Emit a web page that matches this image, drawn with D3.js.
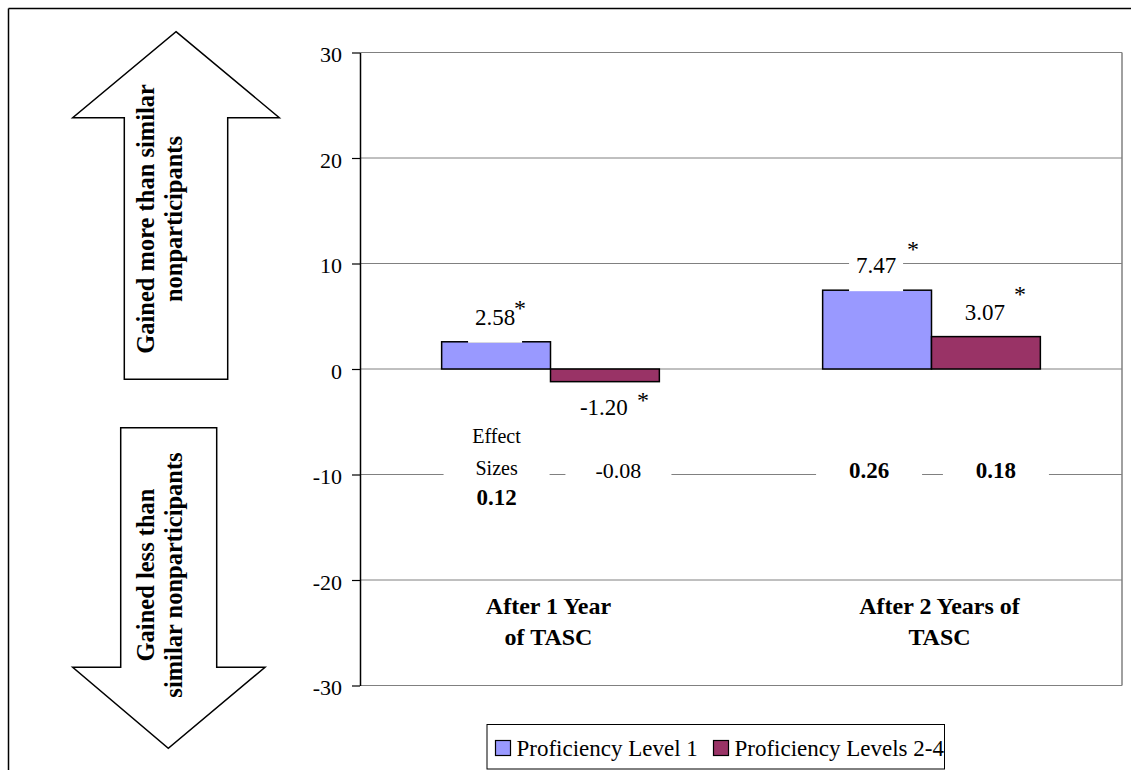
<!DOCTYPE html>
<html>
<head>
<meta charset="utf-8">
<script src="https://cdn.jsdelivr.net/npm/d3@7"></script>
<style>
  html, body { margin: 0; padding: 0; background: #fff; }
  svg { display: block; }
</style>
</head>
<body>
<script>
// ---------------- data ----------------
const categories = ["After 1 Year of TASC", "After 2 Years of TASC"];
const categoryLines = [["After 1 Year", "of TASC"], ["After 2 Years of", "TASC"]];
const seriesNames = ["Proficiency Level 1", "Proficiency Levels 2-4"];
const level1 = [2.58, 7.47];
const levels24 = [-1.20, 3.07];
const level1Sig = [true, true];
const levels24Sig = [true, true];
const effect1 = [0.12, 0.26];
const effect24 = [-0.08, 0.18];
const effect1Sig = [true, true];
const effect24Sig = [false, true];
const effectHeader = ["Effect", "Sizes"];
const yTicks = [-30, -20, -10, 0, 10, 20, 30];
const arrowUpText = ["Gained more than similar", "nonparticipants"];
const arrowDownText = ["Gained less than", "similar nonparticipants"];

// ---------------- layout / style ----------------
const W = 1131, H = 770;
const colors = ["#9999FF", "#993366"];
const FONT = '"Liberation Serif"';
const effectRowValue = -10;
// nudges of annotation boxes (px), [category][series]
const starNudge = [[[24, -37], [38, 15]], [[36, -44], [34, -46]]];
const effNudge = [[0.5, 13.5], [-8, 10]];
const catNudge = [-2, 8];
const labelCoversBar = [true, false];

function draw() {
const svg = d3.select("body").append("svg").attr("width", W).attr("height", H)
  .style("font-family", FONT);

// outer frame (extends beyond page)
svg.append("line").attr("x1", 8.5).attr("y1", 8.5).attr("x2", W).attr("y2", 8.5)
  .attr("stroke", "#000").attr("stroke-width", 1.5);
svg.append("line").attr("x1", 8.5).attr("y1", 8.5).attr("x2", 8.5).attr("y2", H)
  .attr("stroke", "#000").attr("stroke-width", 1.5);

// scales
const plotL = 360, plotR = 1122, plotT = 52.5, plotB = 685.5;
const x0 = d3.scaleBand().domain(categories).range([plotL, plotR]).padding(0);
const barW = x0.bandwidth() / 3.5;
const x1 = d3.scaleBand().domain(seriesNames)
  .range([barW * 0.75, x0.bandwidth() - barW * 0.75]).padding(0);
const y = d3.scaleLinear().domain([-30, 30]).range([plotB, plotT]);

function txt(sel) { return sel.style("font-family", FONT); }

// gridlines
svg.append("g").selectAll("line").data(yTicks).join("line")
  .attr("x1", plotL).attr("x2", plotR)
  .attr("y1", d => y(d)).attr("y2", d => y(d))
  .attr("stroke", "#808080").attr("stroke-width", 1);
svg.append("line").attr("x1", plotR).attr("x2", plotR).attr("y1", plotT).attr("y2", plotB)
  .attr("stroke", "#808080").attr("stroke-width", 1.5);

// axis
const axis = d3.axisLeft(y).tickValues(yTicks).tickSize(8).tickSizeOuter(0)
  .tickPadding(10).tickFormat(d => String(d));
const gA = svg.append("g").attr("transform", `translate(${plotL},0)`).call(axis);
gA.attr("font-family", FONT).attr("font-size", 22);
gA.select(".domain").attr("stroke", "#000").attr("stroke-width", 1.5);
gA.selectAll(".tick line").attr("stroke", "#000").attr("stroke-width", 1.2);
gA.selectAll(".tick text").call(txt).style("font-size", "22px")
  .attr("dy", "0.42em").attr("fill", "#000");

// bars
const seriesVals = [level1, levels24];
const seriesSig = [level1Sig, levels24Sig];
const effVals = [effect1, effect24];
const effSig = [effect1Sig, effect24Sig];
const bars = [];
categories.forEach((c, ci) => {
  seriesNames.forEach((s, si) => {
    bars.push({ c, ci, s, si, v: seriesVals[si][ci], sig: seriesSig[si][ci],
      eff: effVals[si][ci], effSig: effSig[si][ci] });
  });
});
svg.append("g").selectAll("rect").data(bars).join("rect")
  .attr("x", d => x0(d.c) + x1(d.s))
  .attr("width", x1.bandwidth())
  .attr("y", d => Math.min(y(d.v), y(0)))
  .attr("height", d => Math.abs(y(d.v) - y(0)))
  .attr("fill", d => colors[d.si])
  .attr("stroke", "#000").attr("stroke-width", 1.5);

// value labels with white boxes
const gL = svg.append("g");
bars.forEach(d => {
  const cx = x0(d.c) + x1(d.s) + x1.bandwidth() / 2;
  const yEnd = y(d.v);
  const base = d.v >= 0 ? yEnd - 17 : yEnd + 33;
  const label = d.v.toFixed(2);
  const w = label.length * 10.5;
  const bottom = (d.v >= 0 && labelCoversBar[d.si]) ? yEnd + 1 : base + 14;
  gL.append("rect").attr("x", cx - 1 - w / 2 - 6).attr("width", w + 12)
    .attr("y", base - 22).attr("height", bottom - (base - 22)).attr("fill", "#fff");
  gL.append("text").call(txt).attr("x", cx - 1).attr("y", base)
    .attr("text-anchor", "middle").style("font-size", "23px").text(label);
  if (d.sig) {
    const n = starNudge[d.ci][d.si];
    gL.append("text").call(txt).attr("x", cx + n[0]).attr("y", yEnd + n[1] + 11)
      .attr("text-anchor", "middle").style("font-size", "24px").text("*");
  }
});

// effect size labels
const gE = svg.append("g");
const yr = y(effectRowValue);
bars.forEach((d, i) => {
  const cx = x0(d.c) + x1(d.s) + x1.bandwidth() / 2 + effNudge[d.ci][d.si];
  const first = i === 0;
  gE.append("rect").attr("x", cx - 53).attr("width", 106)
    .attr("y", first ? yr - 55 : yr - 18).attr("height", first ? 95 : 34)
    .attr("fill", "#fff");
  if (first) {
    gE.append("text").call(txt).attr("x", cx).attr("y", yr - 31.6).attr("text-anchor", "middle")
      .style("font-size", "20px").text(effectHeader[0]);
    gE.append("text").call(txt).attr("x", cx).attr("y", yr + 0.4).attr("text-anchor", "middle")
      .style("font-size", "20px").text(effectHeader[1]);
  }
  gE.append("text").call(txt).attr("x", cx).attr("y", first ? yr + 30.4 : yr + 3)
    .attr("text-anchor", "middle").style("font-size", d.effSig ? "23px" : "22px")
    .style("font-weight", d.effSig ? "bold" : "normal")
    .text(d.eff.toFixed(2));
});

// category labels
const gC = svg.append("g");
categories.forEach((c, ci) => {
  const cx = x0(c) + x0.bandwidth() / 2 + catNudge[ci];
  categoryLines[ci].forEach((ln, li) => {
    gC.append("text").call(txt).attr("x", cx).attr("y", y(-20) + 34 + li * 31)
      .attr("text-anchor", "middle").style("font-size", "24px").style("font-weight", "bold")
      .text(ln);
  });
});

// arrows
const arrowStyle = sel => sel.attr("fill", "#fff").attr("stroke", "#000")
  .attr("stroke-width", 1.5).attr("stroke-linejoin", "miter");
svg.append("path").attr("d",
  "M176,31.7 L279.3,117.7 L227.7,117.7 L227.7,379.3 L124.3,379.3 L124.3,117.7 L72.7,117.7 Z")
  .call(arrowStyle);
svg.append("path").attr("d",
  "M120.7,427.7 L216.7,427.7 L216.7,667.3 L265,667.3 L168.3,748.3 L72.7,667.3 L120.7,667.3 Z")
  .call(arrowStyle);

function arrowText(lines, cy) {
  const xs = [154, 182];
  lines.forEach((ln, i) => {
    svg.append("text").call(txt).attr("transform", `translate(${xs[i]},${cy}) rotate(-90)`)
      .attr("text-anchor", "middle").style("font-size", "24.5px").style("font-weight", "bold")
      .text(ln);
  });
}
arrowText(arrowUpText, 219);
arrowText(arrowDownText, 575);

// legend (item widths from measured Times-metric text at 23px)
const legendTextW = [183, 208];
const gLeg = svg.append("g");
const legBox = gLeg.append("rect").attr("x", 487).attr("y", 724.5).attr("height", 44.5)
  .attr("fill", "#fff").attr("stroke", "#000").attr("stroke-width", 1);
let lx = 495.5;
seriesNames.forEach((s, si) => {
  gLeg.append("rect").attr("x", lx).attr("y", 740.5).attr("width", 15).attr("height", 15)
    .attr("fill", colors[si]).attr("stroke", "#000").attr("stroke-width", 1.2);
  gLeg.append("text").call(txt).attr("x", lx + 21).attr("y", 756)
    .style("font-size", "23px").text(s);
  lx += 21 + legendTextW[si] + 14;
});
legBox.attr("width", lx - 14 + 2 - 487);
}
draw();
</script>
</body>
</html>
